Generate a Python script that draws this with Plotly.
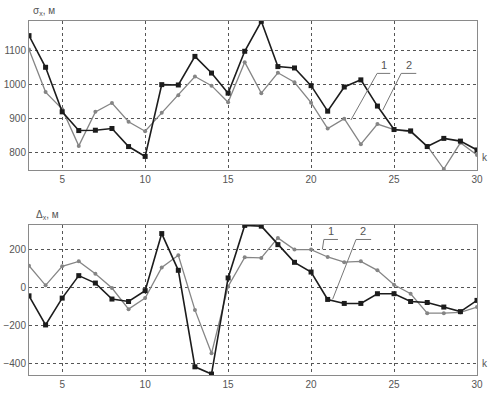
import plotly.graph_objects as go

k = list(range(3, 31))

sigma_2 = [1144, 1051, 920, 865, 866, 871, 818, 789, 1000, 999, 1083, 1034, 975, 1098,
           1186, 1053, 1049, 997, 922, 993, 1014, 937, 868, 864, 818, 842, 834, 808]
sigma_1 = [1103, 978, 928, 820, 920, 946, 891, 863, 917, 969, 1024, 997, 948, 1066,
           975, 1035, 1007, 947, 871, 900, 825, 884, 868, 861, 820, 752, 829, 793]

delta_2 = [-44, -197, -56, 62, 23, -61, -74, -17, 283, 90, -417, -455, 50, 326,
           322, 225, 132, 81, -63, -84, -84, -33, -33, -74, -79, -103, -127, -68]
delta_1 = [114, 11, 111, 137, 72, -3, -114, -56, 105, 169, -118, -346, 5, 158,
           155, 260, 199, 199, 160, 133, 137, 90, 14, -33, -135, -135, -131, -103]

x_ticks = [5, 10, 15, 20, 25, 30]
top_ticks = [800, 900, 1000, 1100]
bot_ticks = [-400, -200, 0, 200]

GRAY = "#858585"
DARK = "#1c1c1c"
FONT = "Liberation Sans"

fig = go.Figure()


def add_pair(gray_vals, dark_vals, xa, ya):
    fig.add_trace(go.Scatter(x=k, y=gray_vals, mode="lines+markers", xaxis=xa, yaxis=ya,
                             line=dict(color=GRAY, width=1.3),
                             marker=dict(symbol="circle", size=4, color=GRAY),
                             showlegend=False, hoverinfo="skip"))
    fig.add_trace(go.Scatter(x=k, y=dark_vals, mode="lines+markers", xaxis=xa, yaxis=ya,
                             line=dict(color=DARK, width=1.6),
                             marker=dict(symbol="square", size=5, color=DARK),
                             showlegend=False, hoverinfo="skip"))


add_pair(sigma_1, sigma_2, "x", "y")
add_pair(delta_1, delta_2, "x2", "y2")

axis_common = dict(showline=True, linecolor="#8a8a8a", linewidth=1, mirror=True,
                   showgrid=True, gridcolor="#555555", griddash="dot", gridwidth=1,
                   zeroline=False, ticks="", automargin=False,
                   tickfont=dict(family=FONT, size=10, color="#555555"))

fig.update_layout(
    width=491, height=393,
    margin=dict(l=29, r=14, t=21, b=18, autoexpand=False),
    paper_bgcolor="white", plot_bgcolor="white",
    xaxis=dict(domain=[0, 1], range=[3, 30], tickvals=x_ticks, anchor="y", **axis_common),
    yaxis=dict(domain=[0.579, 1], range=[749, 1187], tickvals=top_ticks, anchor="x", **axis_common),
    xaxis2=dict(domain=[0, 1], range=[3, 30], tickvals=x_ticks, anchor="y2", **axis_common),
    yaxis2=dict(domain=[0, 0.4237], range=[-460, 328], tickvals=bot_ticks, anchor="x2", **axis_common),
)

line_style = dict(color="#777777", width=1)
shapes = [
    # top "1"
    dict(type="line", xref="x", yref="y", x0=23.98, y0=1033, x1=24.77, y1=1033, line=line_style),
    dict(type="line", xref="x", yref="y", x0=23.98, y0=1033, x1=22.4, y1=896, line=line_style),
    # top "2"
    dict(type="line", xref="x", yref="y", x0=25.43, y0=1033, x1=26.34, y1=1033, line=line_style),
    dict(type="line", xref="x", yref="y", x0=25.43, y0=1033, x1=24.32, y1=925, line=line_style),
    # bottom "1"
    dict(type="line", xref="x2", yref="y2", x0=20.77, y0=252, x1=21.62, y1=252, line=line_style),
    dict(type="line", xref="x2", yref="y2", x0=20.77, y0=252, x1=20.68, y1=200, line=line_style),
    # bottom "2"
    dict(type="line", xref="x2", yref="y2", x0=22.71, y0=252, x1=23.62, y1=252, line=line_style),
    dict(type="line", xref="x2", yref="y2", x0=22.71, y0=252, x1=21.3, y1=-62, line=line_style),
]
fig.update_layout(shapes=shapes)

lab_font = dict(family=FONT, size=11, color="#555555")
small_font = dict(family=FONT, size=10, color="#555555")
ann = [
    dict(text="1", xref="x", yref="y", x=24.38, y=1033, yanchor="bottom", showarrow=False, font=lab_font),
    dict(text="2", xref="x", yref="y", x=25.88, y=1033, yanchor="bottom", showarrow=False, font=lab_font),
    dict(text="1", xref="x2", yref="y2", x=21.2, y=252, yanchor="bottom", showarrow=False, font=lab_font),
    dict(text="2", xref="x2", yref="y2", x=23.15, y=252, yanchor="bottom", showarrow=False, font=lab_font),
    dict(text="σ<sub>x</sub>, м", xref="paper", yref="paper", x=0.005, y=1.005, xanchor="left",
         yanchor="bottom", showarrow=False, font=small_font),
    dict(text="Δ<sub>x</sub>, м", xref="paper", yref="paper", x=0.012, y=0.428, xanchor="left",
         yanchor="bottom", showarrow=False, font=small_font),
    dict(text="k", xref="paper", yref="paper", x=1.0, y=0.592, xanchor="left", xshift=3,
         yanchor="bottom", showarrow=False, font=small_font),
    dict(text="k", xref="paper", yref="paper", x=1.0, y=0.01, xanchor="left", xshift=3,
         yanchor="bottom", showarrow=False, font=small_font),
]
fig.update_layout(annotations=ann)

fig.write_html("out.html", config={"displayModeBar": False},
               post_script="document.body.style.margin='0';")
